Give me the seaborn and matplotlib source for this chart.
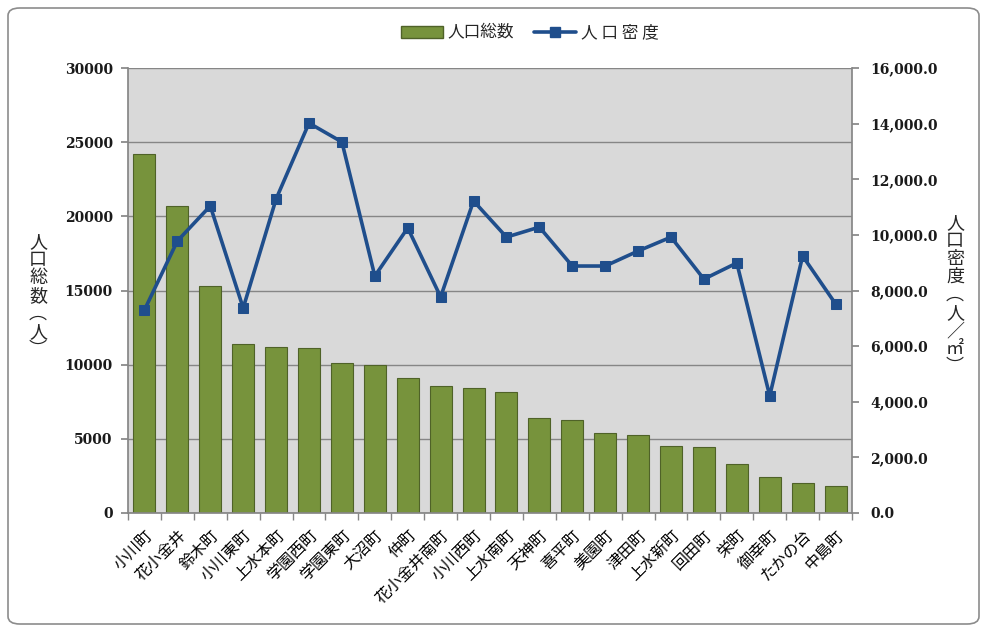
import numpy as np
import pandas as pd
import matplotlib
matplotlib.use("Agg")
import matplotlib.pyplot as plt
import seaborn as sns
from matplotlib.patches import FancyBboxPatch
from matplotlib.lines import Line2D
from matplotlib.patches import Patch
from matplotlib.ticker import FixedLocator

towns = ["小川町", "花小金井", "鈴木町", "小川東町", "上水本町", "学園西町", "学園東町", "大沼町",
         "仲町", "花小金井南町", "小川西町", "上水南町", "天神町", "喜平町", "美園町", "津田町",
         "上水新町", "回田町", "栄町", "御幸町", "たかの台", "中島町"]
population = [24200, 20700, 15300, 11400, 11200, 11100, 10100, 10000,
              9100, 8550, 8400, 8150, 6400, 6250, 5400, 5280,
              4550, 4480, 3280, 2450, 2000, 1800]
density = [7300, 9780, 11040, 7370, 11290, 14020, 13340, 8520,
           10250, 7770, 11220, 9920, 10280, 8880, 8880, 9420,
           9920, 8410, 8990, 4210, 9240, 7520]

sns.set_theme(style="white")
plt.rcParams['font.family'] = ['Noto Sans CJK JP', 'DejaVu Sans']

df = pd.DataFrame({"town": towns, "pop": population, "dens": density, "x": np.arange(len(towns))})

fig = plt.figure(figsize=(9.87, 6.32), dpi=100)
fig.patch.set_facecolor("white")
border = FancyBboxPatch((8/987, 8/632), 971/987, 616/632, boxstyle="round,pad=0,rounding_size=0.012",
                        transform=fig.transFigure, facecolor="white", edgecolor="#8c8c8c",
                        linewidth=1.2, zorder=-10)
fig.add_artist(border)

ax = fig.add_axes([128/987, 1-513/632, (852-128)/987, (513-68)/632])
ax.set_facecolor("#d9d9d9")

sns.barplot(data=df, x="x", y="pop", ax=ax, color="#77933C", width=0.67,
            edgecolor="#4f6228", linewidth=0.8, saturation=1, order=list(range(len(towns))))
ax.set_ylim(0, 30000)
ax.set_xlim(-0.5, len(towns) - 0.5)
ax.set_yticks(np.arange(0, 30001, 5000))
ax.yaxis.grid(True, color="#868686", linewidth=1)
ax.set_axisbelow(True)

num_font = dict(family="DejaVu Serif", fontsize=10, fontweight="bold", color="#1a1a1a")
ax.set_yticklabels([str(v) for v in range(0, 30001, 5000)], **num_font)
ax.set_xticks(np.arange(len(towns)))
ax.set_xticklabels(towns, rotation=45, ha="right", rotation_mode="anchor", fontsize=11.5, color="black")
ax.tick_params(axis="x", length=0, pad=10)
ax.xaxis.set_minor_locator(FixedLocator(np.arange(-0.5, len(towns), 1)))
ax.tick_params(axis="x", which="minor", length=5, color="#868686", bottom=True)
ax.tick_params(axis="y", length=5, color="#868686", left=True, pad=6)
ax.set_xlabel("")
ax.set_ylabel("")
for s in ["left", "bottom"]:
    ax.spines[s].set_color("#868686")
for s in ["top", "right"]:
    ax.spines[s].set_visible(False)

ax2 = ax.twinx()
sns.lineplot(data=df, x="x", y="dens", ax=ax2, color="#1F4E8C", linewidth=2.6,
             marker="s", markersize=7, markeredgecolor="#1F4E8C", markerfacecolor="#1F4E8C")
ax2.set_ylim(0, 16000)
ax2.set_yticks(np.arange(0, 16001, 2000))
ax2.set_yticklabels([f"{v:,.1f}" for v in range(0, 16001, 2000)], **num_font)
ax2.tick_params(axis="y", length=5, color="#868686", right=True, pad=8)
ax2.set_ylabel("")
ax2.set_xlabel("")
ax2.spines["right"].set_color("#868686")
for s in ["top", "left", "bottom"]:
    ax2.spines[s].set_visible(False)
ax2.set_xlim(-0.5, len(towns) - 0.5)

fig.text(38/987, 1-296/632, "人\n口\n総\n数\n︵\n人\n︶", ha="center", va="center",
         fontsize=13, linespacing=1.0)
fig.text(955/987, 1-295/632, "人\n口\n密\n度\n︵\n人\n／\n㎡\n︶", ha="center", va="center",
         fontsize=13, linespacing=1.0)

handles = [Patch(facecolor="#77933C", edgecolor="#4f6228"),
           Line2D([0], [0], color="#1F4E8C", lw=2.6, marker="s", markersize=7)]
fig.legend(handles, ["人口総数", "人 口 密 度"], loc="center", bbox_to_anchor=(530/987, 1-33/632),
           ncol=2, frameon=False, fontsize=12, handlelength=2.5, columnspacing=1.2, handletextpad=0.3)

fig.savefig("out.png", dpi=100)
